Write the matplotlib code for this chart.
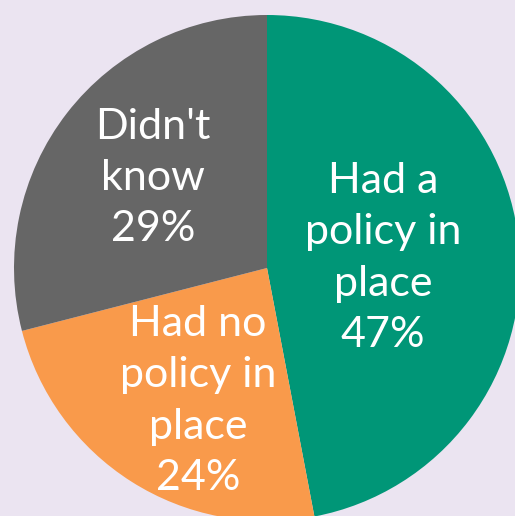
import matplotlib
matplotlib.use("Agg")
import matplotlib.pyplot as plt

categories = ["Had a\npolicy in\nplace", "Had no\npolicy in\nplace", "Didn't\nknow"]
values = [47, 24, 29]
colors = ["#009677", "#F99A4B", "#666666"]
bg = "#EBE4F1"

W, H = 515, 516
fig = plt.figure(figsize=(W / 100, H / 100), dpi=100, facecolor=bg)
cx, cy, r = 267, 268, 253
ax = fig.add_axes([(cx - r) / W, (H - cy - r) / H, 2 * r / W, 2 * r / H])
ax.set_facecolor(bg)
ax.pie(values, colors=colors, startangle=90, counterclock=False, radius=1,
       wedgeprops=dict(linewidth=0))
ax.set_xlim(-1, 1)
ax.set_ylim(-1, 1)
ax.axis("off")

label_px = [(383, 258), (198, 401), (153, 178)]
for cat, v, (px, py) in zip(categories, values, label_px):
    x = (px - cx) / r
    y = (cy - py) / r
    ax.text(x, y, f"{cat}\n{v}%", ha="center", va="center", multialignment="center",
            color="white", fontsize=31, family="Lato", linespacing=1.42)

fig.savefig("out.png", dpi=100, facecolor=bg)
